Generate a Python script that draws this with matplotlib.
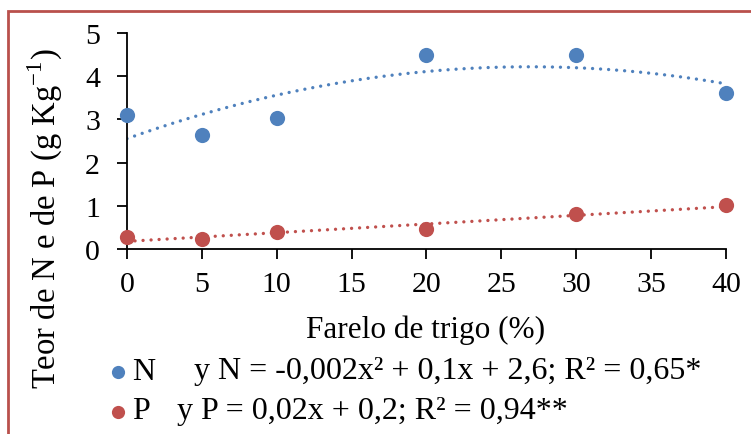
import numpy as np
import matplotlib
matplotlib.use('Agg')
import matplotlib.pyplot as plt
from matplotlib.patches import Rectangle

plt.rcParams['font.family'] = ['Liberation Serif', 'DejaVu Serif']
plt.rcParams['mathtext.fontset'] = 'custom'
plt.rcParams['mathtext.rm'] = 'Liberation Serif'

# data
farelo = [0, 5, 10, 20, 30, 40]
teor_n = [3.10, 2.64, 3.04, 4.48, 4.50, 3.60]
teor_p = [0.27, 0.22, 0.39, 0.46, 0.81, 1.02]
x_ticks = [0, 5, 10, 15, 20, 25, 30, 35, 40]
y_ticks = [0, 1, 2, 3, 4, 5]

BLUE = '#4F81BD'
RED = '#C0504D'
BORDER = '#B9504C'
W, H = 751, 435

fig = plt.figure(figsize=(W / 100, H / 100), dpi=100, facecolor='white')
ax = fig.add_axes([127/W, 1 - 250/H, (726 - 127)/W, (250 - 34)/H])

# trendlines fitted to the points (quadratic for N, linear for P)
xs = np.linspace(0, 40, 200)
cn = np.polyfit(farelo, teor_n, 2)
cp = np.polyfit(farelo, teor_p, 1)
for coef, col in [(cn, BLUE), (cp, RED)]:
    ax.plot(xs, np.polyval(coef, xs), color=col, lw=2.4, ls=(0, (0.01, 2.4)),
            dash_capstyle='round', zorder=2)

ax.scatter(farelo, teor_n, s=120, color=BLUE, zorder=3, clip_on=False, linewidths=0)
ax.scatter(farelo, teor_p, s=120, color=RED, zorder=3, clip_on=False, linewidths=0)

ax.set_xlim(0, 40)
ax.set_ylim(0, 5)
ax.set_xticks(x_ticks)
ax.set_yticks(y_ticks)
ax.tick_params(labelsize=21.5, direction='out', length=7.5, width=1.3, color='black')
ax.tick_params(axis='x', pad=8)
ax.tick_params(axis='y', pad=12)
for s in ['top', 'right']:
    ax.spines[s].set_visible(False)
for s in ['left', 'bottom']:
    ax.spines[s].set_linewidth(1.3)

fig.text(426/W, 1 - 330/H, 'Farelo de trigo (%)', fontsize=22.5,
         ha='center', va='center')
fig.text(45/W, 1 - 219/H, r'Teor de N e de P (g Kg$^{\mathregular{-1}}$)',
         fontsize=23.5, rotation=90, ha='center', va='center')

# legend with the equations
for yy, col, lab in [(373, BLUE, 'N'), (413, RED, 'P')]:
    fig.lines.append(plt.Line2D([118/W], [1 - yy/H], marker='o', ms=9.5, color=col,
                                mew=0, transform=fig.transFigure))
    fig.text(132/W, 1 - (yy - 1)/H, lab, fontsize=23, ha='left', va='center')
fig.text(194/W, 1 - 372/H, 'y N = -0,002x² + 0,1x + 2,6; R² = 0,65*',
         fontsize=23, ha='left', va='center')
fig.text(177/W, 1 - 412/H, 'y P = 0,02x + 0,2; R² = 0,94**',
         fontsize=23, ha='left', va='center')

# outer frame
fig.patches.append(Rectangle((8/W, -0.1), 1.1, 1 - 12/H + 0.1, fill=False,
                             edgecolor=BORDER, lw=2, transform=fig.transFigure))

fig.savefig('out.png', dpi=100, facecolor='white')
